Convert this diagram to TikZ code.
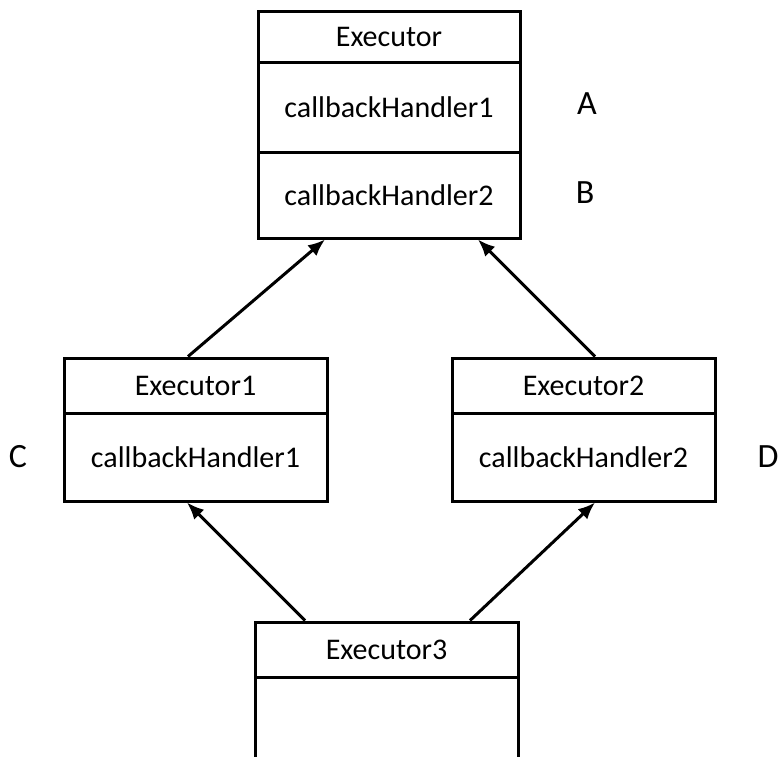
\documentclass[tikz,border=0pt]{standalone}
\usepackage{fontspec}
\setmainfont{Carlito}
\usetikzlibrary{arrows.meta}
\tikzset{
  cell/.style={draw, line width=3pt, rectangle, inner sep=0pt, font=\fontsize{30}{34}\selectfont},
  lbl/.style={inner sep=0pt, font=\fontsize{34}{38}\selectfont},
  conn/.style={line width=3pt, -{Latex[length=17pt,width=14pt]}}
}
\begin{document}
\begin{tikzpicture}[x=1pt,y=-1pt]
\useasboundingbox (0,0) rectangle (779,756);
\clip (0,0) rectangle (779,756);
% top box
\node[cell, minimum width=262pt, minimum height=51pt] (t1) at (389,36.5) {Executor};
\node[cell, minimum width=262pt, minimum height=90pt] (t2) at (389,107) {callbackHandler1};
\node[cell, minimum width=262pt, minimum height=86pt] (t3) at (389,195) {callbackHandler2};
% Executor1
\node[cell, minimum width=263pt, minimum height=55pt] (e1a) at (195.5,385.5) {Executor1};
\node[cell, minimum width=263pt, minimum height=88pt] (e1b) at (195.5,457) {callbackHandler1};
% Executor2
\node[cell, minimum width=263pt, minimum height=55pt] (e2a) at (583.5,385.5) {Executor2};
\node[cell, minimum width=263pt, minimum height=88pt] (e2b) at (583.5,457) {callbackHandler2};
% Executor3
\node[cell, minimum width=263pt, minimum height=55pt] (e3a) at (386.5,649.5) {Executor3};
\node[cell, minimum width=263pt, minimum height=100pt] (e3b) at (386.5,727) {};
% labels
\node[lbl] (la) at (587,104) {A};
\node[lbl] (lb) at (585,193) {B};
\node[lbl] (lc) at (18,457) {C};
\node[lbl] (ld) at (768,457) {D};
% connectors
\draw[conn] ([xshift=-7.5pt]e1a.north) -- ([xshift=-64pt]t3.south);
\draw[conn] ([xshift=11.5pt]e2a.north) -- ([xshift=89pt]t3.south);
\draw[conn] ([xshift=-81.5pt]e3a.north) -- ([xshift=-8.5pt]e1b.south);
\draw[conn] ([xshift=83.5pt]e3a.north) -- ([xshift=11.5pt]e2b.south);
\end{tikzpicture}
\end{document}
